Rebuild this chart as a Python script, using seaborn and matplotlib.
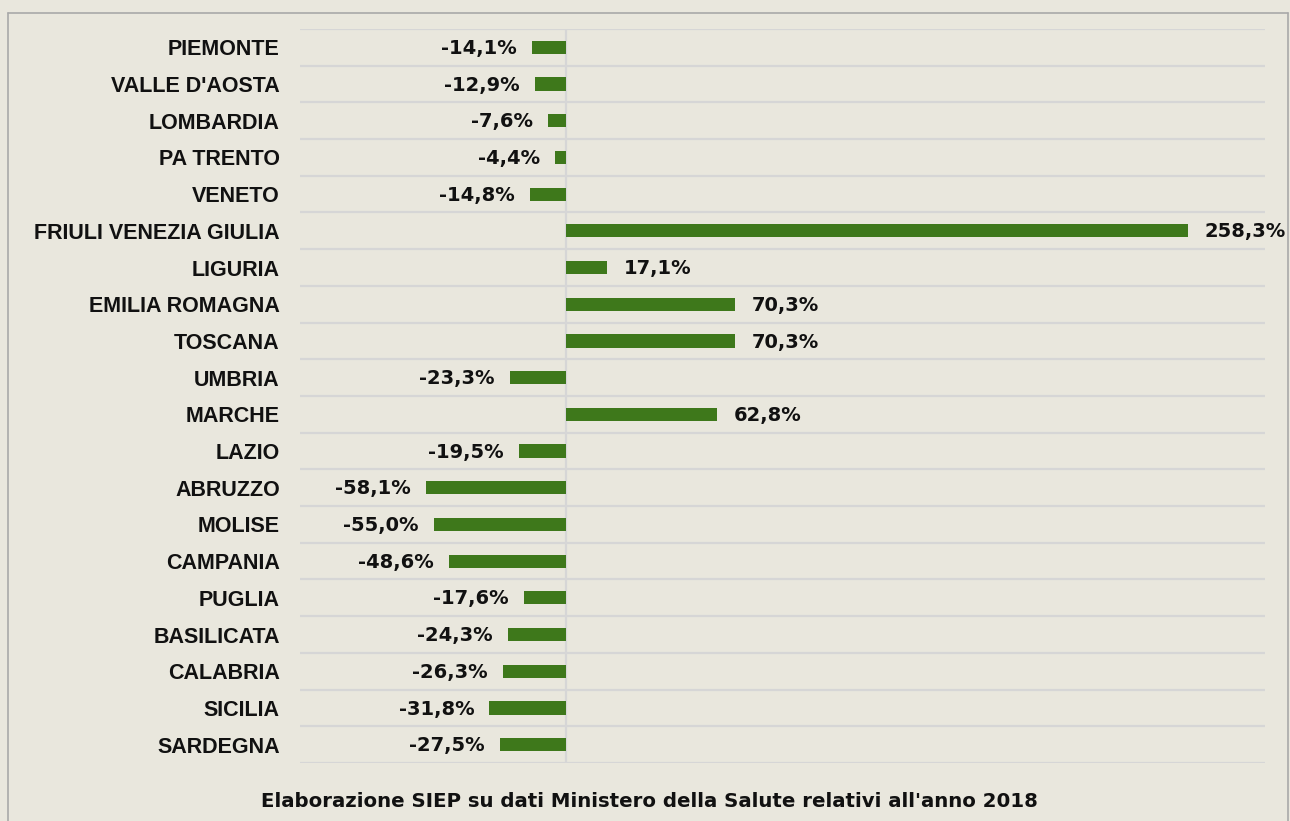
import matplotlib
matplotlib.use("Agg")
import matplotlib.pyplot as plt
import seaborn as sns
import pandas as pd
from matplotlib.lines import Line2D

regions = ["PIEMONTE", "VALLE D'AOSTA", "LOMBARDIA", "PA TRENTO", "VENETO",
           "FRIULI VENEZIA GIULIA", "LIGURIA", "EMILIA ROMAGNA", "TOSCANA", "UMBRIA",
           "MARCHE", "LAZIO", "ABRUZZO", "MOLISE", "CAMPANIA", "PUGLIA",
           "BASILICATA", "CALABRIA", "SICILIA", "SARDEGNA"]
values = [-14.1, -12.9, -7.6, -4.4, -14.8, 258.3, 17.1, 70.3, 70.3, -23.3,
          62.8, -19.5, -58.1, -55.0, -48.6, -17.6, -24.3, -26.3, -31.8, -27.5]
caption = "Elaborazione SIEP su dati Ministero della Salute relativi all'anno 2018"

BG = "#E9E7DD"
GREEN = "#3E781B"
GRID = "#D6D6D6"
TXT = "#111111"
LABEL_FONT = ["Liberation Sans", "DejaVu Sans"]
VALUE_FONT = ["DejaVu Sans"]

sns.set_theme(style="white")
plt.rcParams["font.family"] = ["DejaVu Sans"]

df = pd.DataFrame({"region": regions, "value": values})

fig = plt.figure(figsize=(12.9, 8.21), dpi=100, facecolor=BG)
ax = fig.add_axes([300/1290, 1-763/821, (1265-300)/1290, (763-29)/821])
ax.set_facecolor(BG)

sns.barplot(data=df, y="region", x="value", orient="h", color=GREEN,
            width=0.36, ax=ax, saturation=1, edgecolor="none", zorder=3)

ax.set_xlim(-110.5, 290.3)
ax.set_ylim(len(regions) - 0.5, -0.5)
ax.set_xlabel("")
ax.set_ylabel("")
ax.set_xticks([])
for s in ax.spines.values():
    s.set_visible(False)

for i in range(len(regions) + 1):
    ax.axhline(i - 0.5, color=GRID, lw=1.6, zorder=1)
ax.axvline(0, color=GRID, lw=1.6, zorder=1)

ax.tick_params(axis="y", length=0, pad=14.5)
for lab in ax.get_yticklabels():
    lab.set_fontweight("bold")
    lab.set_fontsize(15.5)
    lab.set_family(LABEL_FONT)
    lab.set_color(TXT)

for i, v in enumerate(values):
    txt = f"{v:.1f}%".replace(".", ",")
    if v < 0:
        ax.text(v - 6.3, i + 0.03, txt, ha="right", va="center", fontsize=14,
                fontweight="bold", color=TXT, family=VALUE_FONT)
    else:
        ax.text(v + 6.8, i + 0.03, txt, ha="left", va="center", fontsize=14,
                fontweight="bold", color=TXT, family=VALUE_FONT)

fig.text(649/1290, 1-801/821, caption, ha="center", va="center",
         fontsize=14.2, fontweight="bold", color=TXT, family=VALUE_FONT)

fc = "#A9A9A9"
fig.add_artist(Line2D([8/1290, 8/1290], [0, 1-13/821], transform=fig.transFigure, color=fc, lw=1.2))
fig.add_artist(Line2D([8/1290, 1288/1290], [1-13/821, 1-13/821], transform=fig.transFigure, color=fc, lw=1.2))
fig.add_artist(Line2D([1288/1290, 1288/1290], [0, 1-13/821], transform=fig.transFigure, color=fc, lw=1.2))

fig.savefig("out.png", dpi=100, facecolor=BG)
